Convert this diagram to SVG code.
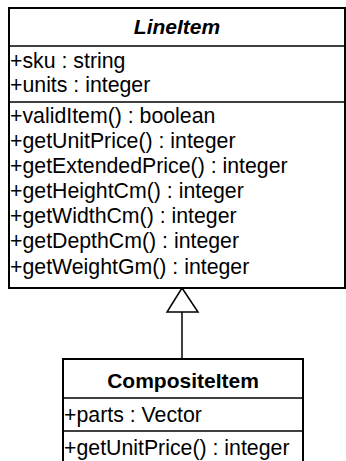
<svg xmlns="http://www.w3.org/2000/svg" width="346" height="461" viewBox="0 0 346 461">
<style>
.box{fill:#fff;stroke:#000;stroke-width:2}
.sep{stroke:#000;stroke-width:1.6}
.t{font-family:"Liberation Sans",Arial,sans-serif;font-size:21.3px;fill:#000}
.title{font-family:"Liberation Sans",Arial,sans-serif;font-size:21px;font-weight:bold;fill:#000;text-anchor:middle}
.edge{fill:none;stroke:#000;stroke-width:1.5}
</style>
<rect width="346" height="461" fill="#fff"/>
<g id="connectors">
<line class="edge" x1="182" y1="312" x2="182" y2="359"/>
<polygon class="edge" points="182,288 167,312 198,312" fill="#fff"/>
</g>
<g id="LineItem">
<rect class="box" x="9" y="8" width="336" height="280"/>
<line class="sep" x1="9" y1="46" x2="346" y2="46"/>
<line class="sep" x1="9" y1="102" x2="346" y2="102"/>
<text class="title" x="177" y="34" font-style="italic">LineItem</text>
<text class="t" x="10" y="68">+sku : string</text>
<text class="t" x="10" y="92">+units : integer</text>
<text class="t" x="10" y="123">+validItem() : boolean</text>
<text class="t" x="10" y="148">+getUnitPrice() : integer</text>
<text class="t" x="10" y="173">+getExtendedPrice() : integer</text>
<text class="t" x="10" y="198">+getHeightCm() : integer</text>
<text class="t" x="10" y="223">+getWidthCm() : integer</text>
<text class="t" x="10" y="248">+getDepthCm() : integer</text>
<text class="t" x="10" y="274">+getWeightGm() : integer</text>
</g>
<g id="CompositeItem">
<rect class="box" x="63" y="359" width="240" height="120"/>
<line class="sep" x1="63" y1="398" x2="303" y2="398"/>
<line class="sep" x1="63" y1="431" x2="303" y2="431"/>
<text class="title" x="183" y="388">CompositeItem</text>
<text class="t" x="64" y="422">+parts : Vector</text>
<text class="t" x="64" y="455">+getUnitPrice() : integer</text>
</g>
</svg>
